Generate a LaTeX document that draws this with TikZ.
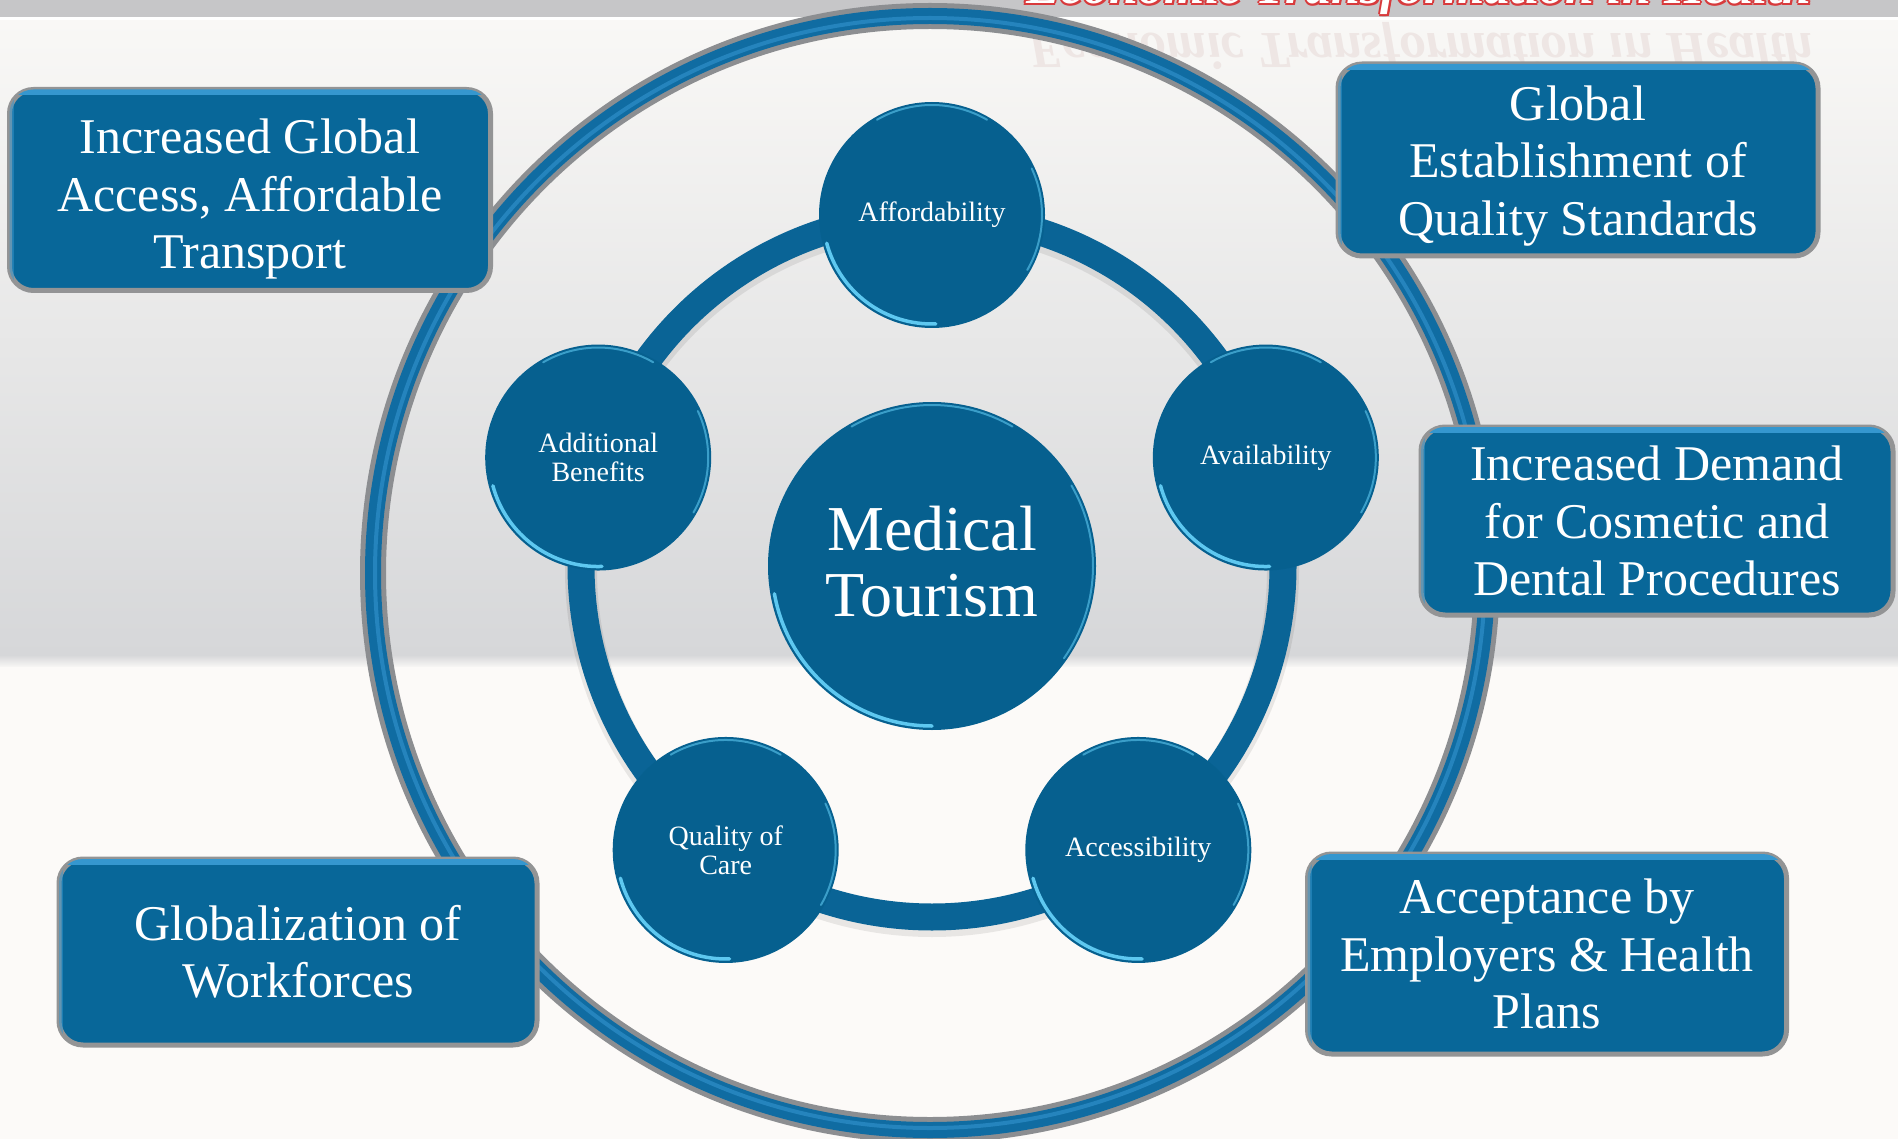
\documentclass[tikz,border=0pt]{standalone}
\usepackage{fontspec}
\setmainfont{Liberation Serif}
\definecolor{stripgray}{HTML}{C6C6C8}
\definecolor{bgtop}{HTML}{F9F8F6}
\definecolor{bgbot}{HTML}{D6D7D9}
\definecolor{bglow}{HTML}{FCFAF8}
\definecolor{ringgray}{HTML}{8C8E91}
\definecolor{ringblue}{HTML}{106CA2}
\definecolor{ringhi}{HTML}{2584BD}
\definecolor{innerblue}{HTML}{0A6496}
\definecolor{bubblue}{HTML}{06608F}
\definecolor{rimlight}{HTML}{5EC8F0}
\definecolor{boxblue}{HTML}{086799}
\definecolor{boxgray}{HTML}{939495}
\definecolor{boxhi}{HTML}{3597CF}
\definecolor{titlered}{HTML}{D83A3C}
\definecolor{reflcol}{HTML}{EEE6E4}
\begin{document}
\begin{tikzpicture}[x=1pt,y=-1pt,
  box/.style={draw=boxgray, line width=5pt, fill=boxblue, rounded corners=24pt,
    inner sep=0pt, outer sep=0pt},
  boxtext/.style={text=white, align=center, inner sep=0pt, outer sep=0pt,
    font=\fontsize{50}{57.5}\selectfont},
  bub/.style={circle, fill=bubblue, minimum size=226pt, inner sep=0pt, outer sep=0pt,
    text=white, align=center, font=\fontsize{28}{29}\selectfont},
  hub/.style={circle, fill=bubblue, minimum size=328pt, inner sep=0pt, outer sep=0pt},
  hubtext/.style={text=white, align=center, inner sep=0pt, outer sep=0pt,
    font=\fontsize{64}{66}\selectfont},
  rim/.style={draw=rimlight, line width=3.5pt, line cap=round},
  rimsoft/.style={draw=rimlight, line width=2pt, line cap=round, opacity=.6},
  titletext/.style={anchor=base west, inner sep=0pt, outer sep=0pt,
    font=\fontsize{52}{54}\selectfont\bfseries\itshape},
]
\useasboundingbox (0,0) rectangle (1898,1139);
% background
\fill[bgtop] (0,0) rectangle (1898,1139);
\shade[top color=bgtop, bottom color=bgbot] (0,20) rectangle (1898,656);
\shade[top color=bgbot, bottom color=bglow] (0,655) rectangle (1898,668);
\fill[bglow] (0,667) rectangle (1898,1139);
\fill[stripgray] (0,0) rectangle (1898,17);
\fill[white] (0,17) rectangle (1898,20);
% title (clipped) and its reflection
\begin{scope}
  \clip (0,0) rectangle (1898,17);
  \foreach \dx/\dy [count=\k] in {-2/0,2/0,0/-2,0/2,-1.5/-1.5,1.5/1.5,-1.5/1.5,1.5/-1.5}
    \node[titletext, text=titlered] (to\k) at (1026+\dx,4+\dy) {Economic Transformation in Health};
  \node[titletext, text=white] (title) at (1026,4) {Economic Transformation in Health};
\end{scope}
\node[titletext, yscale=-1, transform shape, text=reflcol] (reflection) at (1028,34) {Economic Transformation in Health};
% outer ring
\coordinate (R) at (930,573);
\draw[ringgray, line width=26pt] (R) circle[radius=557pt];
\draw[ringblue, line width=16pt] (R) circle[radius=557pt];
\draw[ringhi, line width=4pt] (R) circle[radius=555pt];
% inner ring
\coordinate (C) at (932,566);
\draw[black, opacity=.08, line width=32pt] ([shift={(0,4)}]C) circle[radius=351pt];
\draw[innerblue, line width=27pt] (C) circle[radius=351pt];
% bubbles
\node[bub] (aff) at ([shift={(90:351pt)}]C) {Affordability};
\node[bub] (ava) at ([shift={(18:351pt)}]C) {Availability};
\node[bub] (acc) at ([shift={(-54:351pt)}]C) {Accessibility};
\node[bub] (qoc) at ([shift={(-126:351pt)}]C) {Quality of\\Care};
\node[bub] (add) at ([shift={(162:351pt)}]C) {Additional\\Benefits};
\foreach \b in {aff,ava,acc,qoc,add}{
  \draw[rim] ([shift={(195:109pt)}]\b) arc[start angle=195, end angle=272, radius=109pt];
  \draw[rimsoft] ([shift={(-30:110pt)}]\b) arc[start angle=-30, end angle=25, radius=110pt];
  \draw[rimsoft] ([shift={(60:110pt)}]\b) arc[start angle=60, end angle=120, radius=110pt];
}
% hub
\node[hub] (hub) at (C) {};
\node[hubtext] (hubt) at ([yshift=4pt]hub) {Medical\\Tourism};
\draw[rim] ([shift={(190:160pt)}]hub) arc[start angle=190, end angle=270, radius=160pt];
\draw[rimsoft] ([shift={(-35:161pt)}]hub) arc[start angle=-35, end angle=30, radius=161pt];
\draw[rimsoft] ([shift={(60:161pt)}]hub) arc[start angle=60, end angle=120, radius=161pt];
% boxes
\node[box, minimum width=481pt, minimum height=201pt] (b1) at (250,190) {};
\node[box, minimum width=480pt, minimum height=192pt] (b2) at (1578,160) {};
\node[box, minimum width=472pt, minimum height=188pt] (b3) at (1657,521) {};
\node[box, minimum width=479pt, minimum height=200pt] (b4) at (1547,954) {};
\node[box, minimum width=478pt, minimum height=186pt] (b5) at (298,952) {};
\foreach \b in {b1,b2,b3,b4,b5}{
  \begin{scope}
    \clip[rounded corners=24pt] (\b.south west) rectangle (\b.north east);
    \draw[boxhi, line width=12pt] (\b.north west) -- (\b.north east);
    \draw[boxhi, opacity=.5, line width=8pt] (\b.north west) -- (\b.south west);
  \end{scope}
}
\node[boxtext] (b1t) at ([yshift=-9pt]b1) {Increased Global\\Access, Affordable\\Transport};
\node[boxtext] (b2t) at ([yshift=-6pt]b2) {Global\\Establishment of\\Quality Standards};
\node[boxtext] (b3t) at (b3) {Increased Demand\\for Cosmetic and\\Dental Procedures};
\node[boxtext] (b4t) at (b4) {Acceptance by\\Employers \& Health\\Plans};
\node[boxtext] (b5t) at (b5) {Globalization of\\Workforces};
\end{tikzpicture}
\end{document}
